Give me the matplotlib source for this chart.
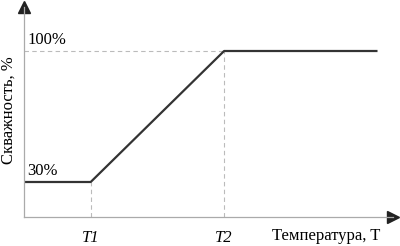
import matplotlib
matplotlib.use("Agg")
import matplotlib.pyplot as plt

# data
temps = [0, 1, 3, 5.3]          # x positions: start, T1, T2, end
duty = [30, 30, 100, 100]       # duty cycle, %
tick_labels = ["T1", "T2"]
level_labels = ["30%", "100%"]
xlabel = "Температура, T"
ylabel = "Скважность, %"

plt.rcParams['font.family'] = ['Liberation Serif', 'DejaVu Serif']

fig = plt.figure(figsize=(4.0, 2.46), dpi=100)
W, H = 400, 246
x0_px, xaxis_px = 24, 217
right_px, top_px = 393, 7
ax = fig.add_axes([x0_px / W, (H - xaxis_px) / H, (right_px - x0_px) / W, (xaxis_px - top_px) / H])
px_per_x = 66.7
px_per_y = 131 / 70.0
ylow = 30 - (xaxis_px - 182) / px_per_y
ax.set_xlim(0, (right_px - x0_px) / px_per_x)
ax.set_ylim(ylow, ylow + (xaxis_px - top_px) / px_per_y)

for s in ["top", "right"]:
    ax.spines[s].set_visible(False)
for s in ["left", "bottom"]:
    ax.spines[s].set_color("#aaaaaa")
    ax.spines[s].set_linewidth(0.9)

# arrows
ax.plot(1, 0, ">", color="#222222", markersize=8, transform=ax.transAxes, clip_on=False)
ax.plot(0, 1, "^", color="#222222", markersize=8, transform=ax.transAxes, clip_on=False)

# guide lines
dash = dict(color="#bbbbbb", linewidth=0.8, linestyle=(0, (4, 3)))
ax.plot([0, temps[2]], [duty[2], duty[2]], **dash)
ax.plot([temps[2], temps[2]], [ylow, duty[2]], **dash)
ax.plot([temps[1], temps[1]], [ylow, duty[1]], **dash)

ax.plot(temps, duty, color="#333333", linewidth=1.6, solid_capstyle="butt")

ax.set_xticks([temps[1], temps[2]])
ax.set_xticklabels(tick_labels, fontsize=12, style="italic")
ax.set_yticks([])
ax.tick_params(axis="x", length=0, pad=9)

ax.text(0.05, duty[0] + 1.5, level_labels[0], fontsize=12, ha="left", va="bottom")
ax.text(0.05, duty[2] + 1.5, level_labels[1], fontsize=12, ha="left", va="bottom")

fig.text(326 / W, 1 - 236 / H, xlabel, fontsize=12, ha="center", va="center")
fig.text(9 / W, 1 - 110 / H, ylabel, fontsize=12, ha="center", va="center", rotation=90)

fig.savefig("out.png", dpi=100)
